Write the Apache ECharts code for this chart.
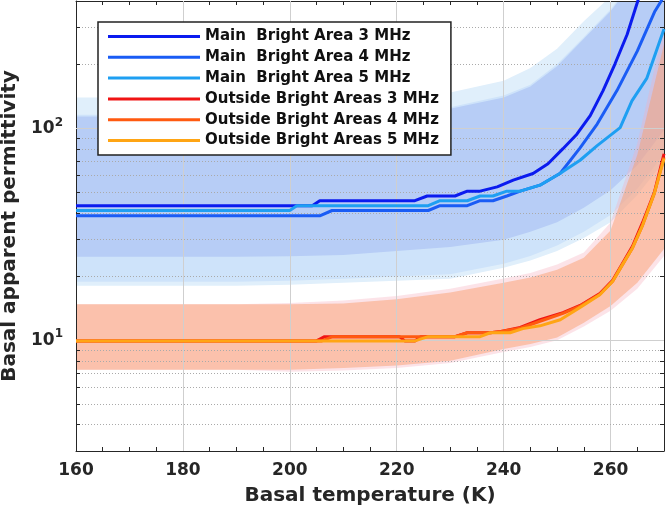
<!DOCTYPE html>
<html>
<head>
<meta charset="utf-8">
<script src="https://cdn.jsdelivr.net/npm/echarts@6/dist/echarts.min.js"></script>
<style>
  html, body { margin: 0; padding: 0; background: #fff; }
  #chart { width: 666px; height: 510px; }
</style>
</head>
<body>
<div id="chart"></div>
<script>
// ---- data ----
var seriesNames = [
  'Main  Bright Area 3 MHz',
  'Main  Bright Area 4 MHz',
  'Main  Bright Area 5 MHz',
  'Outside Bright Areas 3 MHz',
  'Outside Bright Areas 4 MHz',
  'Outside Bright Areas 5 MHz'
];
var seriesColors = ['#0b1bef', '#1a5cf5', '#1e9ff2', '#f01414', '#ff5a10', '#ffa514'];

var main3X = [160, 204.2, 205.6, 223.4, 225.7, 230.9, 233.2, 235.6, 238.8, 241.8, 245.5, 248.3, 251.1, 253.7, 256.2, 258.6, 260.8, 263.1, 265.1, 267];
var main3Y = [43.2, 43.2, 45.6, 45.6, 48.0, 48.0, 50.6, 50.6, 53.0, 57.0, 61.3, 68.2, 80.3, 94, 115, 151, 201, 278, 400, 560];

var main4X = [160, 205.6, 207.9, 225.9, 228.1, 233.2, 235.6, 238.0, 240.6, 243.1, 246.8, 250.6, 254.3, 257.5, 261.2, 265.0, 268.3, 270];
var main4Y = [38.7, 38.7, 41.0, 41.0, 43.2, 43.2, 45.6, 45.6, 48.0, 50.6, 54.0, 61.5, 81, 105, 151, 232, 358, 420];

var main5X = [160, 200.0, 201.3, 225.9, 228.1, 233.2, 235.6, 238.0, 240.6, 243.1, 246.8, 250.6, 254.3, 257.5, 261.8, 264.0, 266.8, 270];
var main5Y = [41.0, 41.0, 43.2, 43.2, 45.6, 45.6, 48.0, 48.0, 50.6, 50.6, 54.0, 61.5, 70.8, 83, 101, 135, 173, 295];

var out3X = [160, 205.0, 206.5, 220.5, 221.5, 223.4, 224.5, 230.9, 233.2, 237.5, 239.5, 243.1, 246.8, 251.1, 254.3, 258.0, 260.4, 262.2, 264.1, 266.0, 268.2, 270];
var out3Y = [9.93, 9.93, 10.4, 10.4, 9.93, 9.93, 10.4, 10.4, 10.85, 10.85, 11.0, 11.5, 12.5, 13.5, 14.6, 16.6, 19.2, 23, 27.8, 36, 50, 76];

var out4X = [160, 206.0, 208.0, 230.9, 233.2, 237.5, 239.5, 243.1, 246.8, 251.1, 254.3, 258.0, 260.4, 262.2, 264.1, 266.0, 268.2, 270];
var out4Y = [9.93, 9.93, 10.4, 10.4, 10.85, 10.85, 11.0, 11.4, 12.3, 13.4, 14.5, 16.5, 19.0, 22.7, 27.3, 35, 49.5, 73];

var out5X = [160, 223.4, 225.9, 235.6, 237.5, 241.2, 243.6, 246.8, 250.6, 254.3, 258.0, 260.4, 262.2, 264.1, 266.0, 268.2, 270];
var out5Y = [9.93, 9.93, 10.4, 10.4, 10.85, 10.85, 11.35, 11.7, 12.5, 14.3, 16.4, 19.0, 22.7, 27.3, 35, 49.5, 72];

// uncertainty bands
var bandX = [160, 170, 180, 190, 200, 210, 220, 230, 240, 245, 250, 255, 260, 265, 270];
var mainOuterLo = [18.1, 18.1, 18.1, 18.1, 18.3, 18.7, 19.1, 19.5, 22.0, 23.8, 26.4, 30.4, 36.1, 48.5, 70];
var mainOuterHi = [140, 140, 140, 140, 140, 141, 143, 148, 168, 193, 238, 321, 420, 650, 1000];
var mainMidLo = [18.9, 18.9, 18.9, 18.9, 19.1, 19.5, 20.0, 20.5, 23.0, 25.0, 28.0, 32.5, 39, 52, 76];
var mainMidHi = [116, 116, 116, 116, 116, 117, 119, 126, 143, 161, 201, 270, 365, 530, 820];
var mainInnerLo = [24.8, 24.8, 24.8, 24.8, 24.9, 25.3, 26.4, 27.6, 29.8, 32.5, 36.1, 42.2, 51.1, 67, 98];
var mainInnerHi = [114, 114, 114, 114, 114, 115, 117, 124, 140, 158, 197, 265, 358, 520, 800];
var outPinkLo = [7.25, 7.25, 7.25, 7.25, 7.1, 7.2, 7.4, 7.8, 8.8, 9.3, 10.0, 11.6, 13.8, 17.5, 25];
var outPinkHi = [14.8, 14.8, 14.8, 14.8, 15.0, 15.4, 16.2, 17.5, 19.6, 20.8, 22.8, 26, 36, 85, 300];
var outLo = [7.25, 7.25, 7.25, 7.25, 7.25, 7.4, 7.6, 8.0, 9.1, 9.6, 10.3, 12.1, 14.5, 18.7, 27];
var outHi = [14.8, 14.8, 14.8, 14.8, 14.8, 14.9, 15.6, 16.8, 18.7, 19.8, 21.5, 24.5, 33, 75, 250];

// grid lines / tick values
var xMajorGrid = [180, 200, 220, 240, 260];
var yMajorGrid = [10, 100];
var yMinorGrid = [4, 5, 6, 7, 8, 9, 20, 30, 40, 50, 60, 70, 80, 90, 200, 300];

var FONT = 'DejaVu Sans';
var INK = '#262626';

function pairs(xs, ys) {
  return xs.map(function (x, i) { return [x, ys[i]]; });
}

// band polygon: lower edge left->right, upper edge right->left
function band(lo, hi, color) {
  return {
    type: 'custom', silent: true, z: 2, clip: true, animation: false,
    data: [[160, 10]],
    renderItem: function (params, api) {
      var pts = [];
      for (var i = 0; i < bandX.length; i++) pts.push(api.coord([bandX[i], lo[i]]));
      for (var j = bandX.length - 1; j >= 0; j--) pts.push(api.coord([bandX[j], hi[j]]));
      return { type: 'polygon', shape: { points: pts }, style: { fill: color } };
    }
  };
}

var series = [
  band(mainOuterLo, mainOuterHi, '#e0effb'),
  band(mainMidLo, mainMidHi, '#cee3fa'),
  band(mainInnerLo, mainInnerHi, '#b7cdf6'),
  band(outPinkLo, outPinkHi, 'rgba(245,175,190,0.35)'),
  band(outLo, outHi, 'rgba(250,160,112,0.5)')
];

// grid drawn above the bands, below the lines
var gridLines = [];
xMajorGrid.forEach(function (v) {
  gridLines.push({ xAxis: v, lineStyle: { color: '#cfcfcf', width: 1, type: 'solid' } });
});
yMajorGrid.forEach(function (v) {
  gridLines.push({ yAxis: v, lineStyle: { color: '#cfcfcf', width: 1, type: 'solid' } });
});
yMinorGrid.forEach(function (v) {
  gridLines.push({ yAxis: v, lineStyle: { color: '#aaaaaa', width: 1, type: [1, 2] } });
  // short inside minor ticks, left and right
  gridLines.push([{ coord: [160, v], lineStyle: { color: INK, width: 1, type: 'solid' } }, { coord: [160.75, v] }]);
  gridLines.push([{ coord: [269.25, v], lineStyle: { color: INK, width: 1, type: 'solid' } }, { coord: [270, v] }]);
});
series.push({
  type: 'line', name: 'grid', data: [], z: 3, silent: true,
  markLine: {
    silent: true, symbol: ['none', 'none'], label: { show: false },
    animation: false, data: gridLines
  }
});

var lineX = [main3X, main4X, main5X, out3X, out4X, out5X];
var lineY = [main3Y, main4Y, main5Y, out3Y, out4Y, out5Y];
seriesNames.forEach(function (name, i) {
  series.push({
    type: 'line', name: name, symbol: 'none', z: 5,
    data: pairs(lineX[i], lineY[i]),
    lineStyle: { width: 3, color: seriesColors[i] },
    itemStyle: { color: seriesColors[i] },
    animation: false
  });
});

function yLabel(v) {
  var e = Math.log(v) / Math.LN10;
  var r = Math.round(e);
  if (Math.abs(e - r) < 1e-6 && (r === 1 || r === 2)) {
    return '{b|10}{s|' + r + '}';
  }
  return '';
}

var labelStyle = { fontFamily: FONT, fontWeight: 'bold', fontSize: 17, color: INK };
var axisLine = { show: true, lineStyle: { color: INK, width: 1 } };

var chart = echarts.init(document.getElementById('chart'), null, { renderer: 'canvas' });
chart.setOption({
  animation: false,
  backgroundColor: '#fff',
  grid: { left: 76, right: 2, top: 1, bottom: 59, containLabel: false, outerBoundsMode: 'none' },
  legend: {
    data: seriesNames,
    orient: 'vertical',
    left: 98, top: 22,
    icon: 'rect', itemWidth: 92, itemHeight: 3, itemGap: 3.8,
    padding: [6, 12, 6, 10],
    backgroundColor: '#fff', borderColor: '#222', borderWidth: 1.5,
    selectedMode: false,
    textStyle: { fontFamily: FONT, fontWeight: 'bold', fontSize: 15, color: '#111', lineHeight: 17 },
    z: 20
  },
  xAxis: [{
    type: 'value', min: 160, max: 270, interval: 20, position: 'bottom',
    axisLine: axisLine,
    axisTick: { inside: true, length: 6, lineStyle: { color: INK } },
    axisLabel: Object.assign({ margin: 11, showMaxLabel: false }, labelStyle),
    splitLine: { show: false },
    name: 'Basal temperature (K)', nameLocation: 'middle', nameGap: 35,
    nameTextStyle: { fontFamily: FONT, fontWeight: 'bold', fontSize: 20, color: INK },
    z: 4
  }, {
    type: 'value', min: 160, max: 270, interval: 20, position: 'top',
    axisLine: axisLine,
    axisTick: { inside: true, length: 6, lineStyle: { color: INK } },
    axisLabel: { show: false }, splitLine: { show: false }, z: 4
  }, {
    type: 'value', min: 160, max: 270, interval: 5, position: 'bottom',
    axisLine: { show: false },
    axisTick: { inside: true, length: 4, lineStyle: { color: INK } },
    axisLabel: { show: false }, splitLine: { show: false }, z: 4
  }, {
    type: 'value', min: 160, max: 270, interval: 5, position: 'top',
    axisLine: { show: false },
    axisTick: { inside: true, length: 4, lineStyle: { color: INK } },
    axisLabel: { show: false }, splitLine: { show: false }, z: 4
  }],
  yAxis: [{
    type: 'log', logBase: 10, min: 3, max: 400, position: 'left',
    axisLine: axisLine,
    axisTick: { inside: true, length: 6, lineStyle: { color: INK } },
    axisLabel: {
      margin: 13,
      formatter: yLabel,
      rich: {
        b: { fontFamily: FONT, fontWeight: 'bold', fontSize: 17, color: INK, lineHeight: 24 },
        s: { fontFamily: FONT, fontWeight: 'bold', fontSize: 12, color: INK, lineHeight: 12, verticalAlign: 'top' }
      }
    },
    splitLine: { show: false },
    name: 'Basal apparent permittivity', nameLocation: 'middle', nameGap: 56, nameRotate: 90,
    nameTextStyle: { fontFamily: FONT, fontWeight: 'bold', fontSize: 20, color: INK },
    z: 4
  }, {
    type: 'log', logBase: 10, min: 3, max: 400, position: 'right',
    axisLine: axisLine,
    axisTick: { inside: true, length: 6, lineStyle: { color: INK } },
    axisLabel: { show: false }, splitLine: { show: false }, z: 4
  }],
  series: series
});
</script>
</body>
</html>
